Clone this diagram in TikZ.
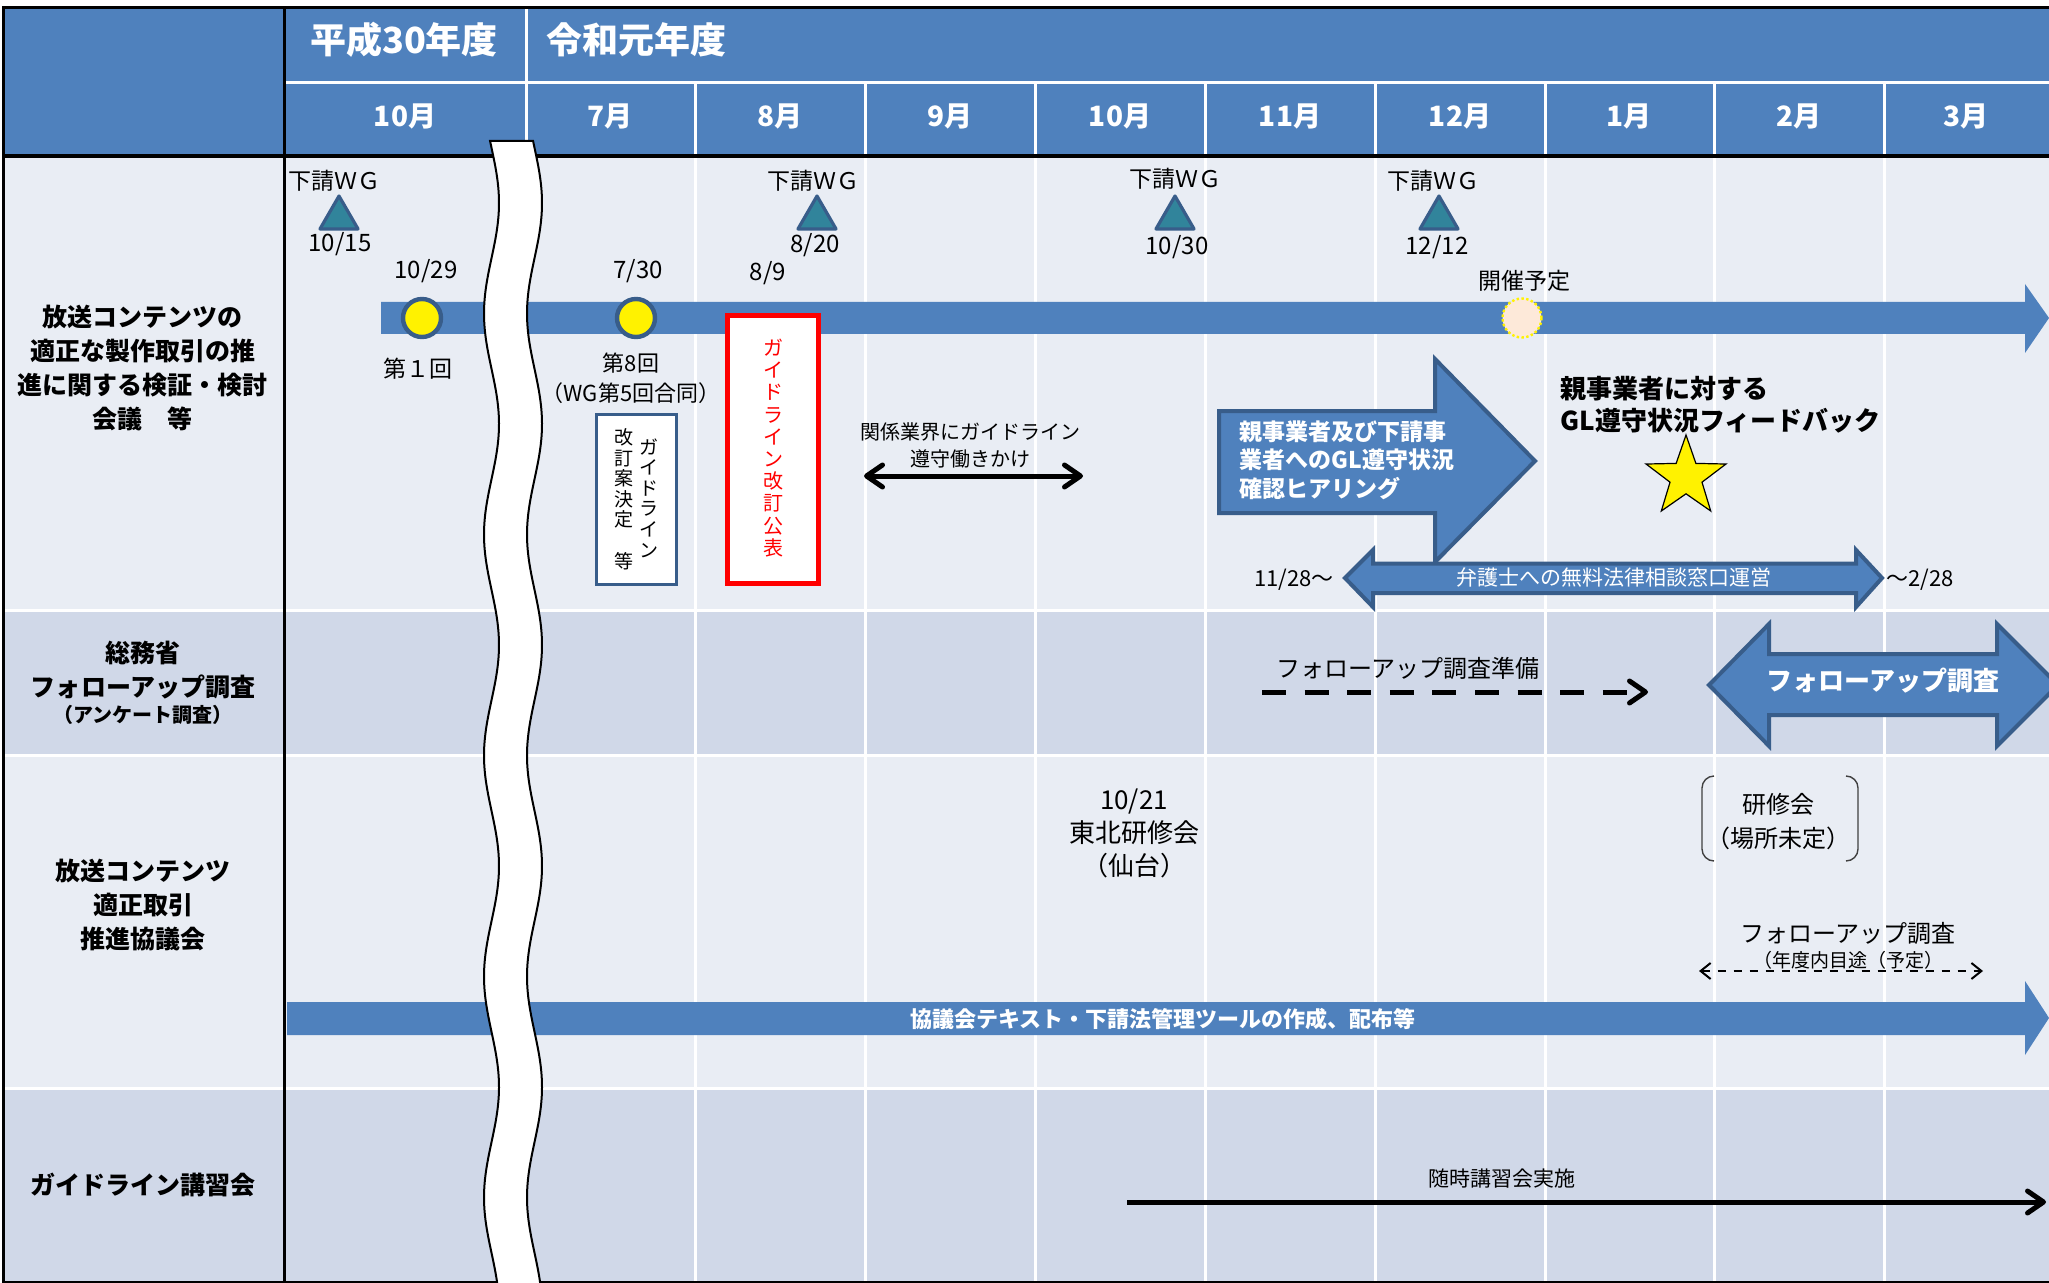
\documentclass[tikz,border=0pt]{standalone}
\usepackage{fontspec}
\setmainfont{Noto Sans CJK JP}
\usetikzlibrary{arrows.meta}
\usetikzlibrary{shapes.geometric}

\definecolor{hdrblue}{HTML}{4F81BD}
\definecolor{rowlight}{HTML}{E9EDF4}
\definecolor{rowdark}{HTML}{D0D8E8}
\definecolor{edgeblue}{HTML}{385D8A}
\definecolor{wgteal}{HTML}{31849B}
\definecolor{peach}{HTML}{FDE9D9}

\newcommand{\jsize}[2]{\fontsize{#1}{#2}\selectfont}

\tikzset{
  yr/.style={inner sep=0pt, text=white, font=\bfseries\jsize{18}{18}},
  mon/.style={inner sep=0pt, text=white, font=\bfseries\jsize{14}{14}},
  lbl/.style={inner sep=0pt, align=center, font=\bfseries\jsize{12.5}{17}},
  note/.style={inner sep=0pt, align=center, font=\jsize{12}{15}},
  vtext/.style={inner sep=0pt, align=center, font=\jsize{9.5}{10.3}},
  wgmark/.style={regular polygon, regular polygon sides=3, minimum size=22pt, inner sep=0pt, fill=wgteal, draw=edgeblue, line width=1.6pt, line join=round},
  mtg/.style={circle, minimum size=19pt, inner sep=0pt, fill=yellow, draw=edgeblue, line width=2.2pt},
  plan/.style={circle, minimum size=19.5pt, inner sep=0pt, fill=peach, draw=yellow, line width=1.2pt, dash pattern=on 1.2pt off 1.2pt},
  blockarr/.style={fill=hdrblue, draw=edgeblue, line width=2pt},
  chev/.style={line width=2.5pt, >={Straight Barb[length=8pt,width=11pt,round]}},
  gridline/.style={white, line width=1.5pt}
}

\begin{document}
\begin{tikzpicture}[x=0.5pt, y=-0.5pt]
  \useasboundingbox (0,0) rectangle (2049,1283);
  \clip (0,0) rectangle (2049,1283);
  \fill[white] (0,0) rectangle (2049,1283);

  \fill[hdrblue] (3,8) rectangle (2049,156);
  \fill[rowlight] (3,156) rectangle (2049,610);
  \fill[rowdark] (3,610) rectangle (2049,755);
  \fill[rowlight] (3,755) rectangle (2049,1088);
  \fill[rowdark] (3,1088) rectangle (2049,1282);

  \draw[gridline] (284,83) -- (2049,83);
  \draw[gridline] (526,8) -- (526,1282);
  \foreach \mx in {695,865,1035,1205,1375,1545,1714,1884}
    \draw[gridline] (\mx,83) -- (\mx,1282);
  \foreach \ry in {610,755,1088}
    \draw[gridline] (3,\ry) -- (2049,\ry);

  \draw[line width=1.5pt] (284,8) -- (284,1282);
  \draw[line width=1.8pt] (3,156) -- (2049,156);
  \draw[line width=1.5pt] (2055,8) -- (3,8) -- (3,1282) -- (2055,1282);

  \node[yr] (h30) at (404,40) {平成30年度};
  \node[yr, anchor=west] (r1) at (546,40) {令和元年度};
  \foreach \mx/\mt [count=\i] in {405/10月, 610/7月, 780/8月, 950/9月, 1120/10月, 1290/11月, 1460/12月, 1629/1月, 1799/2月, 1966/3月}
    \node[mon] (m\i) at (\mx,116) {\mt};

  \node[lbl] (rowA) at (143,368) {放送コンテンツの\\適正な製作取引の推\\進に関する検証・検討\\会議　等};
  \node[lbl] (rowB) at (143,670) {総務省\\フォローアップ調査};
  \node[lbl, font=\bfseries\jsize{10}{12}] (rowBsub) at (143,715) {（アンケート調査）};
  \node[lbl] (rowC) at (143,905) {放送コンテンツ\\適正取引\\推進協議会};
  \node[lbl] (rowD) at (143,1185) {ガイドライン講習会};

  \fill[hdrblue] (381,302) -- (2025,302) -- (2025,284) -- (2049,318) -- (2025,353) -- (2025,334) -- (381,334) -- cycle;

  \node[wgmark] (wg1) at (339,218) {};
  \node[wgmark] (wg2) at (817,218) {};
  \node[wgmark] (wg3) at (1175,218) {};
  \node[wgmark] (wg4) at (1439,218) {};
  \node[note, font=\jsize{11.5}{14}] (wgt1) at (334,181) {下請ＷＧ};
  \node[note, font=\jsize{11.5}{14}] (wgt2) at (813,181) {下請ＷＧ};
  \node[note, font=\jsize{11.5}{14}] (wgt3) at (1175,179) {下請ＷＧ};
  \node[note, font=\jsize{11.5}{14}] (wgt4) at (1433,181) {下請ＷＧ};
  \node[note] (d1015) at (340,244) {10/15};
  \node[note] (d820) at (815,245) {8/20};
  \node[note] (d1030) at (1177,247) {10/30};
  \node[note] (d1212) at (1437,247) {12/12};

  \node[mtg] (mtg1) at (422,318) {};
  \node[mtg] (mtg8) at (636,318) {};
  \node[plan] (mtgplan) at (1522,318) {};
  \node[note] (d1029) at (426,271) {10/29};
  \node[note] (d730) at (638,271) {7/30};
  \node[note] (d89) at (768,273) {8/9};
  \node[note, font=\jsize{11.5}{14}] (plant) at (1524,281) {開催予定};
  \node[note, font=\jsize{11.5}{14}] (mtg1t) at (418,369) {第１回};
  \node[note, font=\jsize{11}{15}] (mtg8t) at (631,378) {第8回\\（WG第5回合同）};

  \node[draw=edgeblue, line width=1.5pt, fill=white, minimum width=40pt, minimum height=85pt, inner sep=0pt] (draftbox) at (636,499) {};
  \node[vtext] (draftR) at (649,498) {ガ\\イ\\ド\\ラ\\イ\\ン};
  \node[vtext] (draftL) at (624,499) {改\\訂\\案\\決\\定\\　\\等};
  \node[draw=red, line width=2.5pt, fill=white, minimum width=45.5pt, minimum height=133.5pt, inner sep=0pt] (pubbox) at (772.5,449.5) {};
  \node[vtext, text=red, font=\jsize{10}{11.1}] (pubt) at (773,448) {ガ\\イ\\ド\\ラ\\イ\\ン\\改\\訂\\公\\表};

  \coordinate (hk1) at (864,476);
  \coordinate (hk2) at (1083,476);
  \draw[chev, <->] (hk1) -- (hk2);
  \node[note, font=\jsize{10}{13.5}] (hkt) at (970,445.5) {関係業界にガイドライン\\遵守働きかけ};

  \draw[blockarr] (1219,411) -- (1435,411) -- (1435,359) -- (1535,461) -- (1435,562) -- (1435,513) -- (1219,513) -- cycle;
  \node[anchor=west, align=left, text=white, font=\bfseries\jsize{11.5}{14.25}, inner sep=0pt] (hear) at (1239,460) {親事業者及び下請事\\業者へのGL遵守状況\\確認ヒアリング};
  \node[anchor=west, align=left, font=\bfseries\jsize{13}{16}, inner sep=0pt] (fb) at (1560,405) {親事業者に対する\\GL遵守状況フィードバック};
  \node[star, star points=5, star point ratio=2.5, minimum size=42pt, inner sep=0pt, fill=yellow, draw=black, line width=0.6pt] (fbstar) at (1686,477) {};

  \draw[blockarr] (1345,578) -- (1373,550) -- (1373,563.5) -- (1856,563.5) -- (1856,550) -- (1882,578) -- (1856,607) -- (1856,593) -- (1373,593) -- (1373,607) -- cycle;
  \node[inner sep=0pt, text=white, font=\jsize{10.5}{12}] (lawt) at (1614,577) {弁護士への無料法律相談窓口運営};
  \node[note, font=\jsize{11}{13}, anchor=east] (law1) at (1334,580) {11/28〜};
  \node[note, font=\jsize{11}{13}, anchor=west] (law2) at (1886,580) {〜2/28};

  \node[note] (prept) at (1408,668) {フォローアップ調査準備};
  \coordinate (prep1) at (1262,692);
  \coordinate (prep2) at (1648,692);
  \draw[chev, ->, dash pattern=on 12pt off 9.3pt] (prep1) -- (prep2);
  \draw[blockarr] (1709,685) -- (1769,624) -- (1769,654) -- (1997,654) -- (1997,624) -- (2058,685) -- (1997,746) -- (1997,715) -- (1769,715) -- (1769,746) -- cycle;
  \node[inner sep=0pt, text=white, font=\bfseries\jsize{13}{14}] (fut) at (1883,681) {フォローアップ調査};

  \node[note, font=\jsize{13}{16.5}] (tohoku) at (1134,833) {10/21\\東北研修会\\（仙台）};
  \node[note, font=\jsize{12}{17}] (kenshu) at (1778,822) {研修会\\（場所未定）};
  \draw[line width=0.7pt, rounded corners=6pt, black!75] (1714,776) -- (1702,776) -- (1702,861) -- (1714,861);
  \draw[line width=0.7pt, rounded corners=6pt, black!75] (1846,776) -- (1858,776) -- (1858,861) -- (1846,861);
  \node[note] (fu2) at (1848,933) {フォローアップ調査};
  \node[note, font=\jsize{9.5}{11}] (fu2s) at (1848,960) {（年度内目途（予定）};
  \coordinate (fu2a) at (1699,971);
  \coordinate (fu2b) at (1983,971);
  \draw[line width=1pt, dash pattern=on 4pt off 4pt, >={Straight Barb[length=5pt,width=8pt]}, <->] (fu2a) -- (fu2b);

  \fill[hdrblue] (287,1002) -- (2025,1002) -- (2025,981) -- (2049,1018) -- (2025,1055) -- (2025,1035) -- (287,1035) -- cycle;
  \node[inner sep=0pt, text=white, font=\bfseries\jsize{11}{12}] (kyogi) at (1163,1019) {協議会テキスト・下請法管理ツールの作成、配布等};

  \node[note, font=\jsize{10.5}{12}] (zuiji) at (1502,1179) {随時講習会実施};
  \coordinate (zj1) at (1127,1202);
  \coordinate (zj2) at (2046,1202);
  \draw[chev, ->] (zj1) -- (zj2);

  \draw[fill=white, line width=1pt] plot[domain=141:1295, samples=140, smooth] ({491.5+7.5*cos((\x-203)/221*360)}, \x) -- plot[domain=1295:141, samples=140, smooth] ({534.5+7.5*cos((\x-203)/221*360)}, \x) -- cycle;
\end{tikzpicture}
\end{document}
